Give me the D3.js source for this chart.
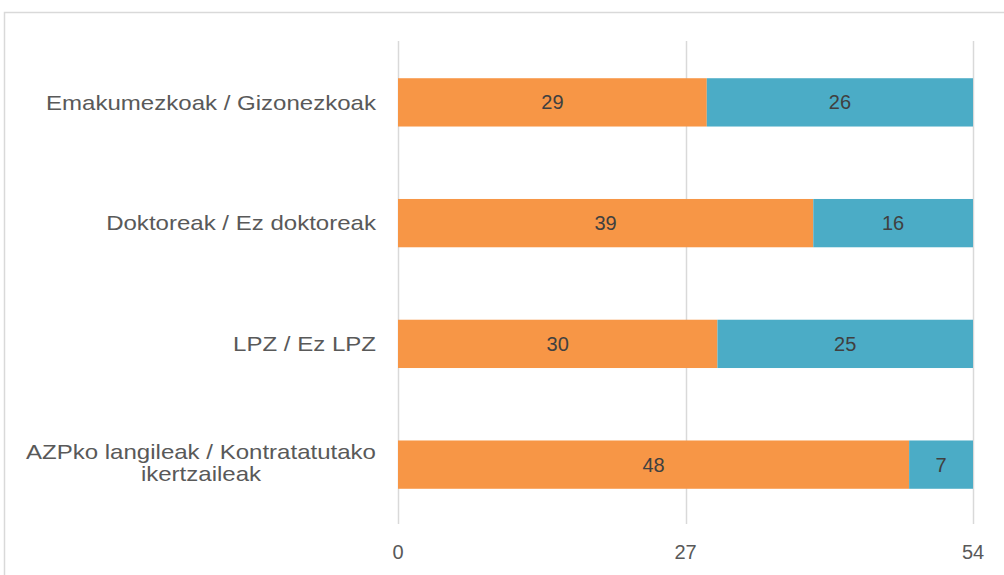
<!DOCTYPE html>
<html><head><meta charset="utf-8">
<script src="https://cdn.jsdelivr.net/npm/d3@7"></script>
<style>body{margin:0;background:#fff;}svg{display:block;font-family:"Liberation Sans",Arial,sans-serif;}</style>
</head><body><svg id="c" width="1004" height="575"></svg>
<script>
const categories = ["Emakumezkoak / Gizonezkoak","Doktoreak / Ez doktoreak","LPZ / Ez LPZ","AZPko langileak / Kontratatutako ikertzaileak"];
const series1 = [29,39,30,48];
const series2 = [26,16,25,7];
const tickValues = [0,27,54];
const colors = ["#F79646","#4BACC6"];

const svg = d3.select("#c");
svg.append("rect").attr("x",4.5).attr("y",12.5).attr("width",1010).attr("height",600)
  .attr("fill","none").attr("stroke","#d9d9d9").attr("stroke-width",1.5);

const x = d3.scaleLinear().domain([0,54]).range([398,973]).clamp(true);
const y = d3.scaleBand().domain(categories).range([42,525]).paddingInner(0.6).paddingOuter(0.3);

svg.append("g").selectAll("line").data(tickValues).join("line")
  .attr("x1",d=>Math.round(x(d))+0.5).attr("x2",d=>Math.round(x(d))+0.5)
  .attr("y1",41).attr("y2",524).attr("stroke","#d9d9d9").attr("stroke-width",1.5);

const rows = categories.map((c,i)=>({c,a:series1[i],b:series2[i]}));
const g = svg.append("g");
rows.forEach(r=>{
  const segs=[{x0:0,x1:r.a,v:r.a,col:colors[0]},{x0:r.a,x1:r.a+r.b,v:r.b,col:colors[1]}];
  segs.forEach(s=>{
    g.append("rect").attr("x",x(s.x0)).attr("y",y(r.c)).attr("width",x(s.x1)-x(s.x0))
      .attr("height",y.bandwidth()).attr("fill",s.col);
    g.append("text").attr("x",(x(s.x0)+x(s.x1))/2).attr("y",y(r.c)+y.bandwidth()/2)
      .attr("dy","0.35em").attr("text-anchor","middle").attr("fill","#404040")
      .attr("font-size",20).text(s.v);
  });
});

const SX = 1.145;
const lab = svg.append("g").attr("transform",`scale(${SX},1)`);
categories.forEach(c=>{
  const cy = y(c)+y.bandwidth()/2;
  if(c.startsWith("AZPko")){
    lab.append("text").attr("text-anchor","end").attr("fill","#595959").attr("font-size",21)
      .attr("x",376/SX).attr("y",cy-13).attr("dy","0.35em").text("AZPko langileak / Kontratatutako");
    lab.append("text").attr("text-anchor","middle").attr("fill","#595959").attr("font-size",21)
      .attr("x",201/SX).attr("y",cy+9).attr("dy","0.35em").text("ikertzaileak");
  } else {
    lab.append("text").attr("text-anchor","end").attr("fill","#595959").attr("font-size",21)
      .attr("x",376/SX).attr("y",cy).attr("dy","0.35em").text(c);
  }
});

svg.append("g").selectAll("text").data(tickValues).join("text")
  .attr("x",d=>x(d)).attr("y",552).attr("dy","0.35em").attr("text-anchor","middle")
  .attr("fill","#595959").attr("font-size",20).text(d=>d);
</script></body></html>
